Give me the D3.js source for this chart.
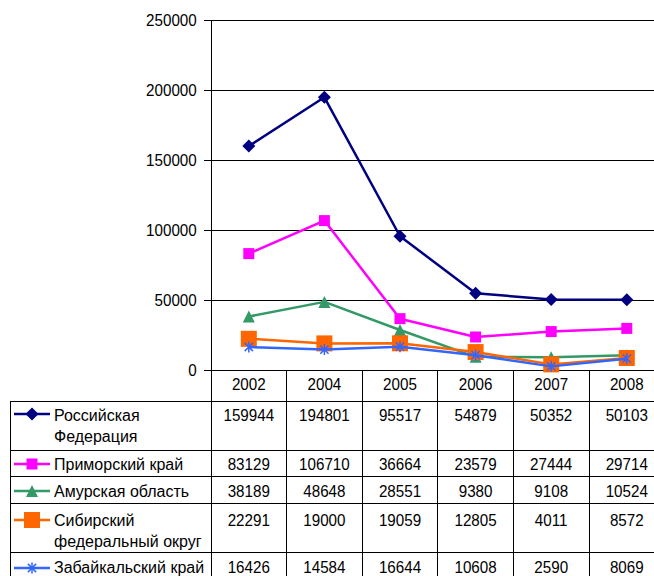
<!DOCTYPE html>
<html><head><meta charset="utf-8">
<script src="https://cdn.jsdelivr.net/npm/d3@7"></script>
<style>body{margin:0;background:#fff}svg{display:block;font-family:"Liberation Sans",Arial,sans-serif}</style>
</head><body>
<svg id="c" width="654" height="576"></svg>
<script>
const years = ["2002","2004","2005","2006","2007","2008"];
const seriesNames = [["Российская","Федерация"],["Приморский край"],["Амурская область"],["Сибирский","федеральный округ"],["Забайкальский край"]];
const rf = [159944,194801,95517,54879,50352,50103];
const primorsky = [83129,106710,36664,23579,27444,29714];
const amur = [38189,48648,28551,9380,9108,10524];
const siberia = [22291,19000,19059,12805,4011,8572];
const zabaikal = [16426,14584,16644,10608,2590,8069];
const yTicks = [0,50000,100000,150000,200000,250000];

(function(){
const series = [
  {name:seriesNames[0], values:rf, color:"#000080", marker:"diamond", size:13},
  {name:seriesNames[1], values:primorsky, color:"#FF00FF", marker:"square", size:11},
  {name:seriesNames[2], values:amur, color:"#339966", marker:"triangle", size:12},
  {name:seriesNames[3], values:siberia, color:"#FF6600", marker:"square", size:16},
  {name:seriesNames[4], values:zabaikal, color:"#3366FF", marker:"asterisk", size:11}
];

const svg = d3.select("#c");
const left = 211, colW = 75.6, plotTop = 20, plotBottom = 370;
const x = d3.scaleBand().domain(years).range([left, left + colW*years.length]);
const y = d3.scaleLinear().domain([0,250000]).range([plotBottom, plotTop]);
const fs = 16;

svg.append("g").selectAll("line").data(yTicks.filter(d=>d>0)).join("line")
  .attr("x1", left).attr("x2", 654).attr("y1", d=>y(d)).attr("y2", d=>y(d))
  .attr("stroke", "#000").attr("stroke-width", 1).attr("shape-rendering","crispEdges");

const ya = d3.axisLeft(y).tickValues(yTicks).tickSize(7).tickPadding(8).tickFormat(d3.format("d"));
const gy = svg.append("g").attr("transform", `translate(${left},0)`).call(ya);
gy.select(".domain").attr("stroke","#000").attr("shape-rendering","crispEdges");
gy.selectAll(".tick line").attr("stroke","#000").attr("shape-rendering","crispEdges");
gy.selectAll("text").attr("font-size", fs).attr("fill","#000").attr("font-family","Liberation Sans, Arial, sans-serif")
  .attr("transform","scale(0.95,1)");

svg.append("line").attr("x1", left-7).attr("x2", 654).attr("y1", plotBottom).attr("y2", plotBottom)
  .attr("stroke","#000").attr("shape-rendering","crispEdges");

const rowBounds = [401, 450, 476, 503, 552, 578];
const tableLeft = 10;
const tg = svg.append("g");
rowBounds.forEach(b => tg.append("line").attr("x1", tableLeft).attr("x2", 654).attr("y1", b).attr("y2", b)
  .attr("stroke","#000").attr("shape-rendering","crispEdges"));
tg.append("line").attr("x1", tableLeft).attr("x2", tableLeft).attr("y1", 401).attr("y2", 578).attr("stroke","#000").attr("shape-rendering","crispEdges");
years.forEach(yr => tg.append("line").attr("x1", x(yr)).attr("x2", x(yr)).attr("y1", plotBottom).attr("y2", 578)
  .attr("stroke","#000").attr("shape-rendering","crispEdges"));

function numText(g, txt, cx, by){
  g.append("text").attr("transform",`translate(${cx},${by}) scale(0.95,1)`)
    .attr("text-anchor","middle").attr("font-size", fs).text(txt);
}
years.forEach(yr => numText(tg, yr, x(yr)+x.bandwidth()/2, 390));

const rowText = [[420.5,442.2],[469.5],[496.5],[525.5,547.2],[573]];
const keyY = [414, 464, 491, 520, 568];

function markerPath(type, s){
  if(type==="diamond") return `M0,${-s/2}L${s/2},0L0,${s/2}L${-s/2},0Z`;
  if(type==="square") return `M${-s/2},${-s/2}h${s}v${s}h${-s}Z`;
  if(type==="triangle") return `M0,${-s/2}L${s/2},${s/2}L${-s/2},${s/2}Z`;
  if(type==="asterisk"){const h=s/2, d=h*0.75; return `M0,${-h}V${h}M${-d},${-d}L${d},${d}M${-d},${d}L${d},${-d}`;}
}
function drawMarker(g, s, cx, cy){
  const p = g.append("path").attr("d", markerPath(s.marker, s.size)).attr("transform",`translate(${cx},${cy})`);
  if(s.marker==="asterisk") p.attr("fill","none").attr("stroke", s.color).attr("stroke-width",1.5);
  else p.attr("fill", s.color).attr("stroke","none");
}

series.forEach((s,i) => {
  s.values.forEach((v,j) => numText(tg, v, x(years[j])+x.bandwidth()/2, rowText[i][0]));
  s.name.forEach((ln,k) => tg.append("text").attr("x", 54).attr("y", rowText[i][k]).attr("font-size", fs).text(ln));
  tg.append("line").attr("x1", 14).attr("x2", 50).attr("y1", keyY[i]).attr("y2", keyY[i])
    .attr("stroke", s.color).attr("stroke-width", 2.5);
  drawMarker(tg, s, 32, keyY[i]);
});

const line = d3.line().x((d,j)=>x(years[j])+x.bandwidth()/2).y(d=>y(d));
const pg = svg.append("g");
series.forEach(s => {
  pg.append("path").datum(s.values).attr("d", line).attr("fill","none")
    .attr("stroke", s.color).attr("stroke-width", 2.5).attr("stroke-linejoin","round");
  s.values.forEach((v,j) => drawMarker(pg, s, x(years[j])+x.bandwidth()/2, y(v)));
});
})();
</script>
</body></html>
